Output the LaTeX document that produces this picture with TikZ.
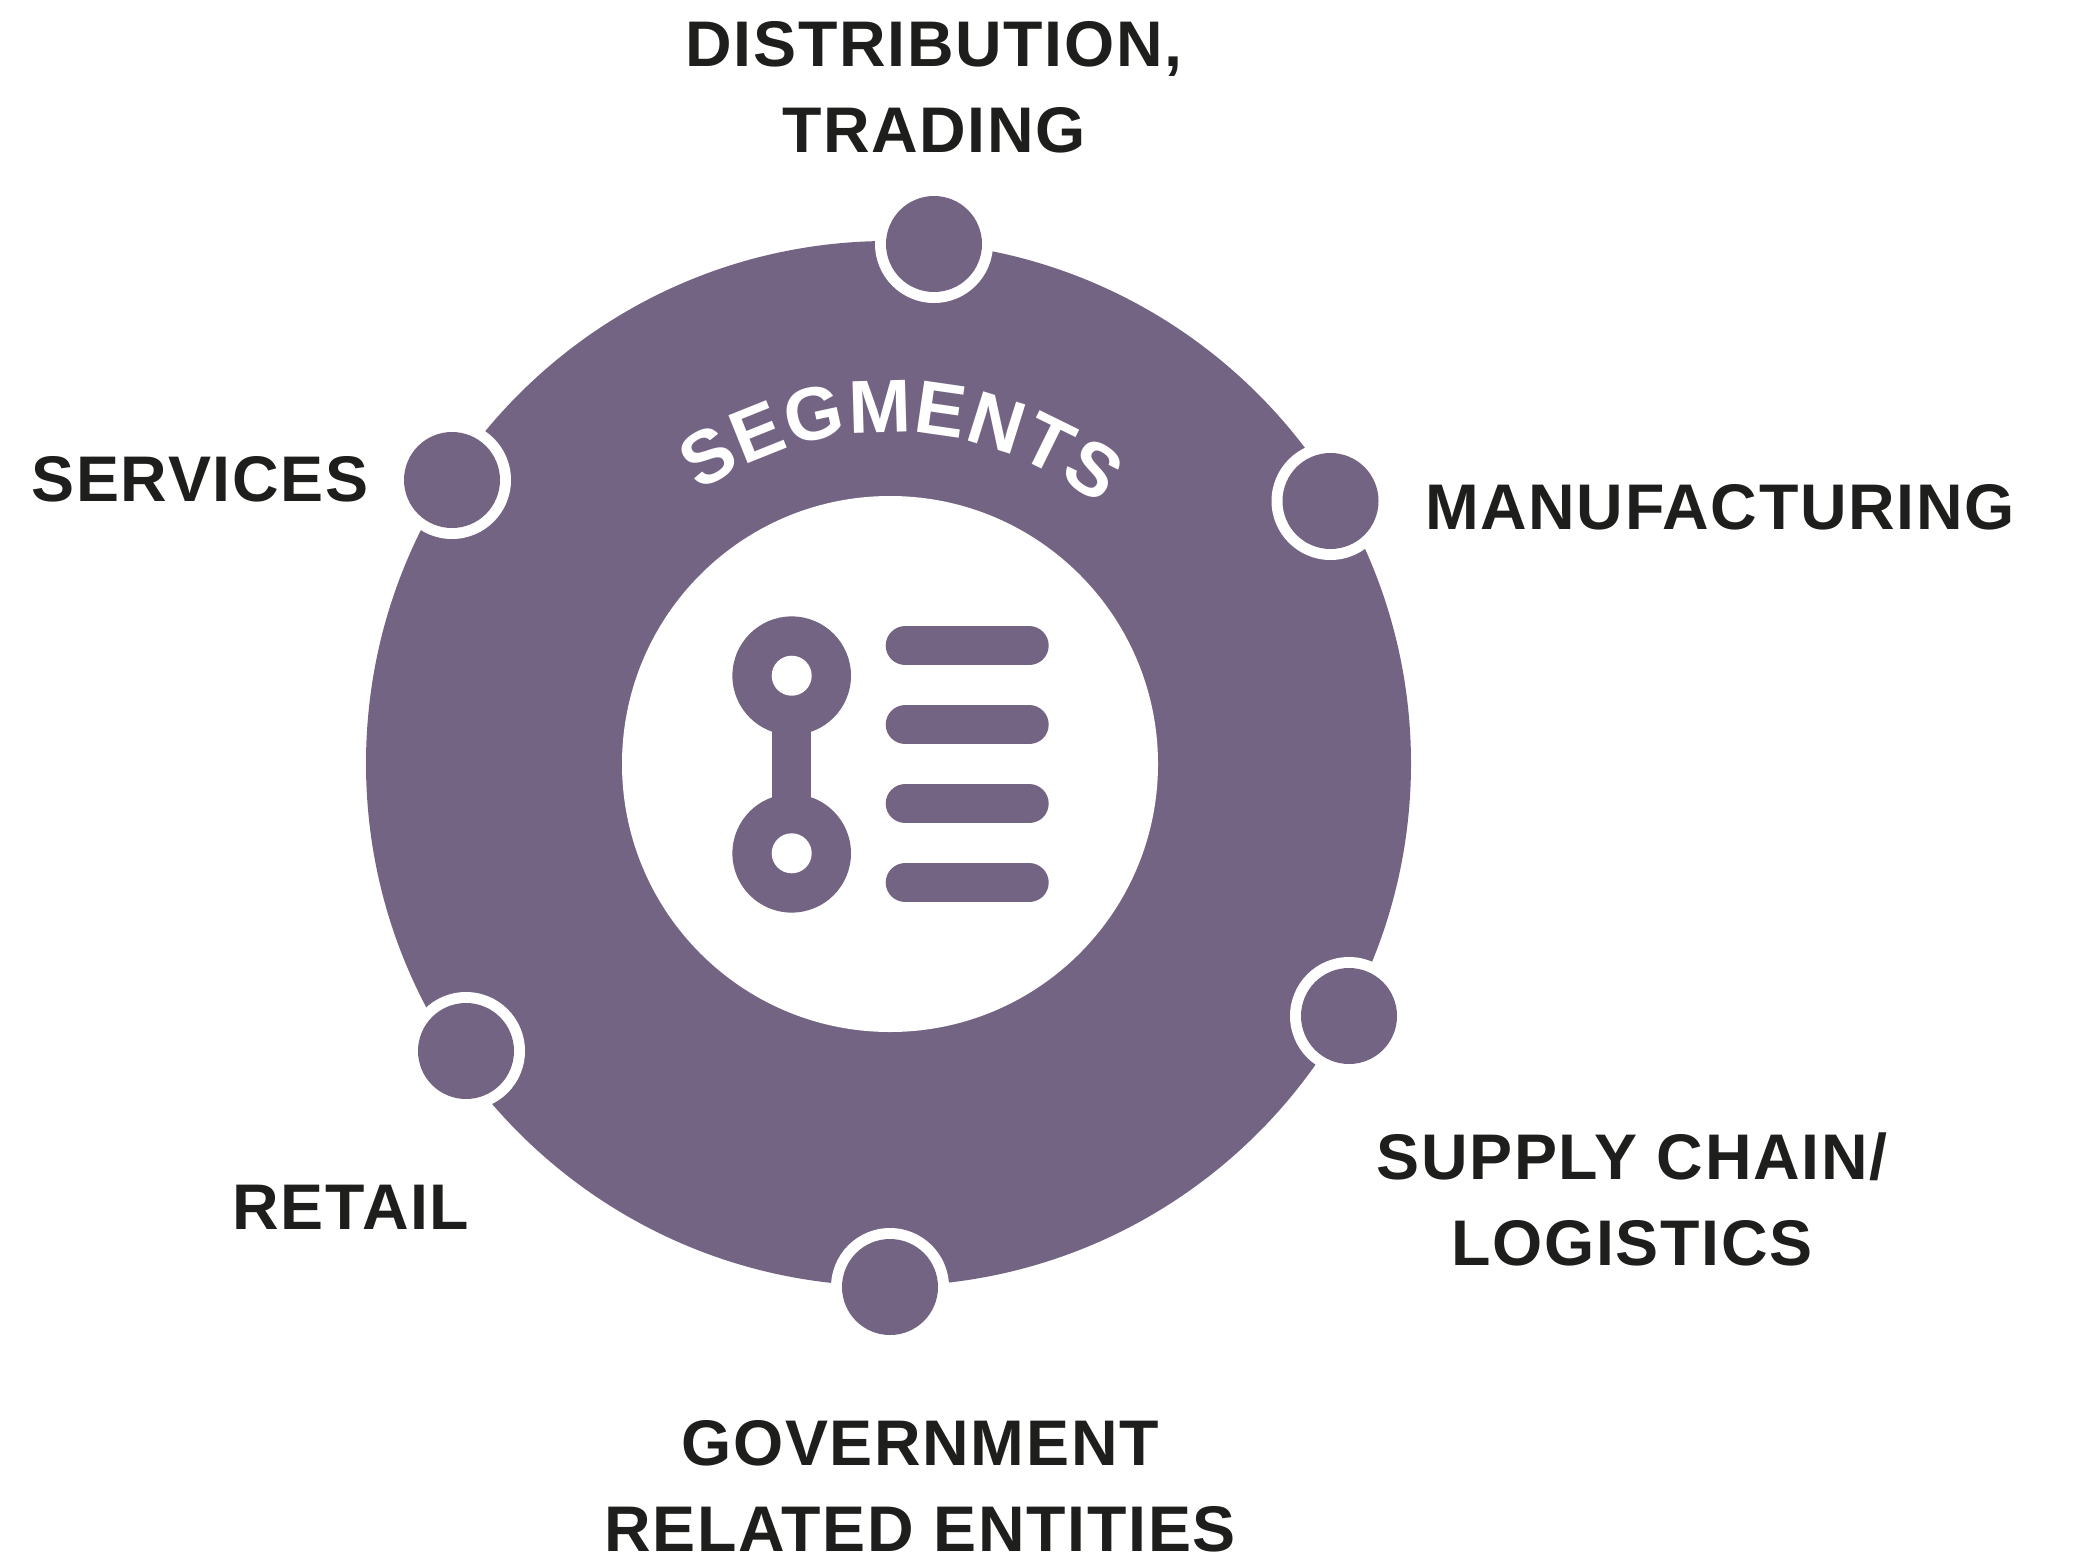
\documentclass[tikz,border=0pt]{standalone}
\usepackage{fontspec}
\setmainfont{Liberation Sans}
\newfontfamily\labelfont{Liberation Sans}[LetterSpace=2.6]
\newfontfamily\segfont{Liberation Sans}
\usetikzlibrary{decorations.text}
\definecolor{plum}{HTML}{746484}
\definecolor{ink}{HTML}{1E1E1C}
\tikzset{
  hub/.style={circle,fill=plum,draw=none,minimum size=96pt,inner sep=0pt},
  halo/.style={circle,fill=white,draw=none,minimum size=118pt,inner sep=0pt},
  lab/.style={text=ink,font=\labelfont\bfseries\fontsize{64.5}{86}\selectfont,align=center,inner sep=0pt},
  pill/.style={line width=39.4pt,line cap=round,draw=plum},
  bead/.style={circle,fill=plum,draw=none,minimum size=118.6pt,inner sep=0pt},
  hole/.style={circle,fill=white,draw=none,minimum size=40pt,inner sep=0pt}
}
\begin{document}
\begin{tikzpicture}[x=1pt,y=-1pt]
\useasboundingbox (0,0) rectangle (2080,1565);
\fill[plum] (888.5,763.5) circle[radius=522.5];
\node[circle,fill=white,minimum size=536pt,inner sep=0pt] (core) at (890,764) {};
% hubs
\foreach \n/\x/\y in {a/934/244,b/1330.5/501,c/1349/1016,d/890/1287,e/466/1051,f/452/480}{
  \node[halo] (h\n) at (\x,\y) {};
  \node[hub] (\n) at (\x,\y) {};
}
% curved title
\coordinate (arcstart) at ({890+332*cos(125)},{764-332*sin(125)});
\path[decorate,decoration={text along path,text align={fit to path},
  text={|\segfont\bfseries\fontsize{75}{75}\selectfont\color{white}|SEGMENTS}}]
  (arcstart) arc[start angle=125,end angle=51,x radius=332,y radius=-332];
% icon
\draw[plum,line width=39.4pt] (791.7,675.7) -- (791.7,853.3);
\node[bead] (b1) at (791.7,675.7) {};
\node[bead] (b2) at (791.7,853.3) {};
\node[hole] at (b1) {};
\node[hole] at (b2) {};
\foreach \yy in {645.7,724.7,803.7,882.7}{
  \draw[pill] (905.4,\yy) -- (1029,\yy);
}
% labels
\node[lab] at (934,87.5) {DISTRIBUTION,\\TRADING};
\node[lab] at (1720,507) {MANUFACTURING};
\node[lab] at (1632,1199) {SUPPLY CHAIN/\\LOGISTICS};
\node[lab] at (920,1486) {GOVERNMENT\\RELATED ENTITIES};
\node[lab] at (351,1207) {RETAIL};
\node[lab] at (200,479) {SERVICES};
\end{tikzpicture}
\end{document}
